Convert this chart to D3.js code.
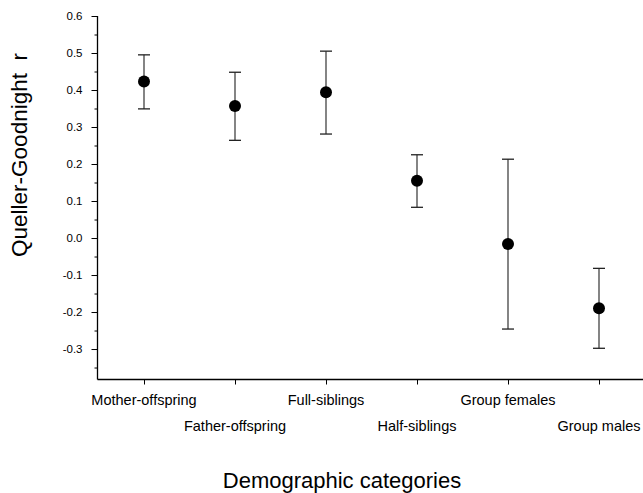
<!DOCTYPE html>
<html><head><meta charset="utf-8">
<script src="https://cdn.jsdelivr.net/npm/d3@7"></script>
<style>body{margin:0;background:#fff}svg{display:block}text{font-family:"Liberation Sans",Arial,sans-serif;fill:#000}</style>
</head><body>
<script>
const categories = ["Mother-offspring","Father-offspring","Full-siblings","Half-siblings","Group females","Group males"];
const means = [0.423, 0.357, 0.394, 0.155, -0.016, -0.19];
const upper = [0.495, 0.448, 0.505, 0.225, 0.213, -0.082];
const lower = [0.349, 0.264, 0.281, 0.083, -0.246, -0.298];
const yTicks = [0.6,0.5,0.4,0.3,0.2,0.1,0.0,-0.1,-0.2,-0.3];
const yTickLabels = ["0.6","0.5","0.4","0.3","0.2","0.1","0.0","-0.1","-0.2","-0.3"];
const yMinor = [0.55,0.45,0.35,0.25,0.15,0.05,-0.05,-0.15,-0.25,-0.35];
const yLabel = "Queller-Goodnight\u00a0\u00a0r";
const xLabel = "Demographic categories";

const W = 643, H = 493;
const svg = d3.select("body").append("svg").attr("width", W).attr("height", H);
const x = d3.scalePoint().domain(categories).range([144, 599]);
const y = d3.scaleLinear().domain([-0.381, 0.6]).range([379, 16]);
const x0 = 97.5, yb = 379.5;

// axes
const gy = svg.append("g").attr("transform", `translate(${x0},0)`);
gy.call(d3.axisLeft(y).tickValues(yTicks).tickSize(6).tickPadding(9)
  .tickFormat((d, i) => yTickLabels[i]));
gy.select(".domain").remove();
gy.selectAll(".tick line").attr("stroke", "#000");
gy.selectAll(".tick text").style("font-size", "11.5px").style("font-family", '"Liberation Sans",Arial,sans-serif');
const gym = svg.append("g").attr("transform", `translate(${x0},0)`);
gym.call(d3.axisLeft(y).tickValues(yMinor).tickSize(3).tickFormat(""));
gym.select(".domain").remove();
gym.selectAll(".tick line").attr("stroke", "#000");
svg.append("line").attr("x1", x0).attr("x2", x0).attr("y1", y(0.6)).attr("y2", yb).attr("stroke", "#000").attr("stroke-width", 1.3);

const gx = svg.append("g").attr("transform", `translate(0,${yb})`);
gx.call(d3.axisBottom(x).tickSize(5).tickFormat(""));
gx.select(".domain").remove();
gx.selectAll(".tick line").attr("stroke", "#000");
svg.append("line").attr("x1", x0).attr("x2", W).attr("y1", yb).attr("y2", yb).attr("stroke", "#000").attr("stroke-width", 1.3);

// category labels in two rows
svg.append("g").selectAll("text").data(categories).join("text")
  .attr("x", d => x(d))
  .attr("y", (d, i) => i % 2 === 0 ? 405 : 431)
  .attr("text-anchor", "middle")
  .style("font-size", "14.5px")
  .text(d => d);

// error bars
const pts = categories.map((c, i) => ({c, m: means[i], u: upper[i], l: lower[i]}));
const g = svg.append("g");
g.selectAll("line.bar").data(pts).join("line").attr("class", "bar")
  .attr("x1", d => x(d.c)).attr("x2", d => x(d.c))
  .attr("y1", d => y(d.u)).attr("y2", d => y(d.l))
  .attr("stroke", "#333").attr("stroke-width", 1.2);
g.selectAll("line.cu").data(pts).join("line").attr("class", "cu")
  .attr("x1", d => x(d.c) - 6).attr("x2", d => x(d.c) + 6)
  .attr("y1", d => y(d.u)).attr("y2", d => y(d.u))
  .attr("stroke", "#222").attr("stroke-width", 1.3);
g.selectAll("line.cl").data(pts).join("line").attr("class", "cl")
  .attr("x1", d => x(d.c) - 6).attr("x2", d => x(d.c) + 6)
  .attr("y1", d => y(d.l)).attr("y2", d => y(d.l))
  .attr("stroke", "#222").attr("stroke-width", 1.3);
g.selectAll("circle").data(pts).join("circle")
  .attr("cx", d => x(d.c)).attr("cy", d => y(d.m)).attr("r", 6).attr("fill", "#000");

// axis titles
svg.append("text").attr("transform", "translate(27,155) rotate(-90)")
  .attr("text-anchor", "middle").style("font-size", "22.5px").text(yLabel);
svg.append("text").attr("x", 342).attr("y", 488)
  .attr("text-anchor", "middle").style("font-size", "22px").text(xLabel);
</script>
</body></html>
